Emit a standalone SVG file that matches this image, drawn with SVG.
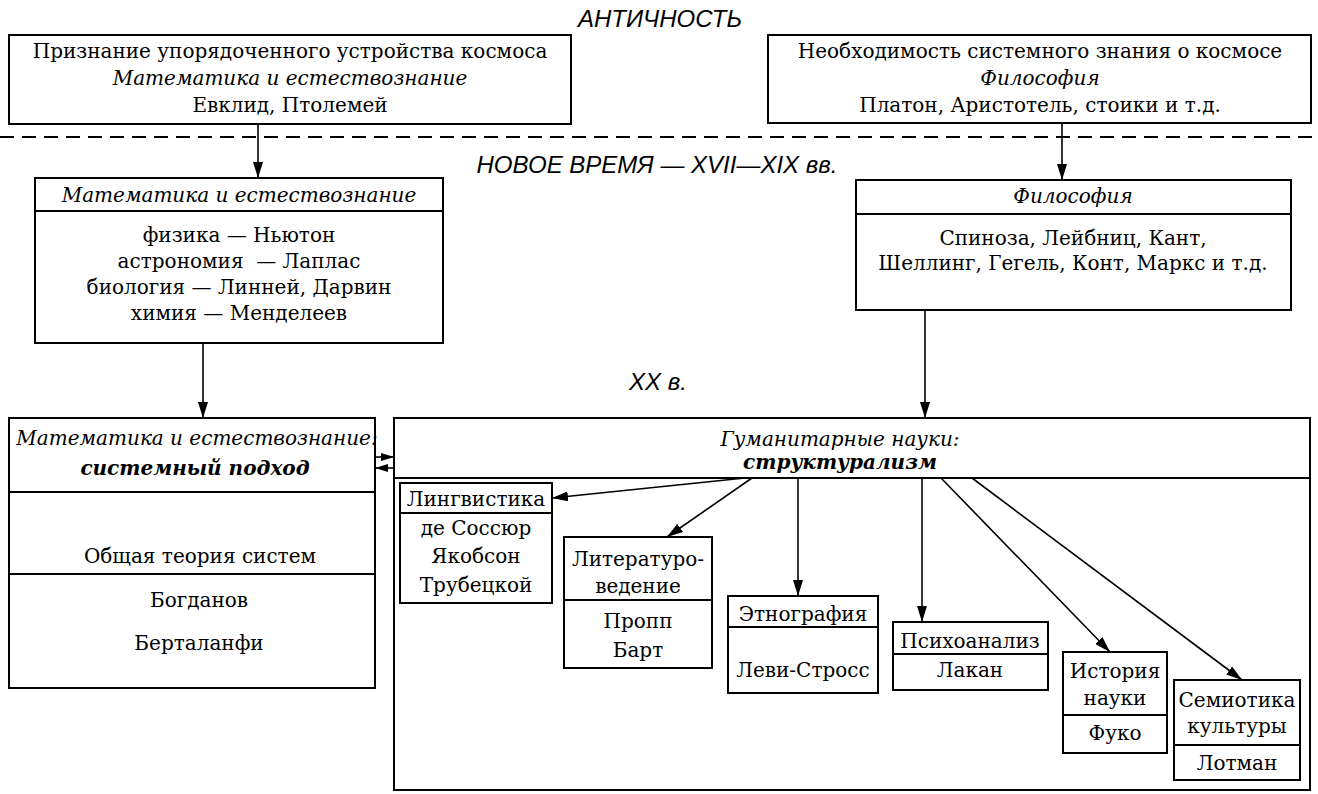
<svg xmlns="http://www.w3.org/2000/svg" width="1318" height="794" viewBox="0 0 1318 794">
<defs>
<marker id="ah" viewBox="0 0 16 10" refX="16" refY="5" markerWidth="16" markerHeight="10" markerUnits="userSpaceOnUse" orient="auto"><path d="M0,0 L16,5 L0,10 Z" fill="#000"/></marker>
<marker id="ahs" viewBox="0 0 13 8" refX="13" refY="4" markerWidth="13" markerHeight="8" markerUnits="userSpaceOnUse" orient="auto"><path d="M0,0 L13,4 L0,8 Z" fill="#000"/></marker>
</defs>
<style>
.box{fill:none;stroke:#000;stroke-width:2}
.dv{stroke:#000;stroke-width:2}
.t{font-family:"DejaVu Serif",serif;font-size:20px;fill:#000;text-anchor:middle}
.i{font-style:italic}
.bi{font-style:italic;font-weight:bold}
.h{font-family:"Liberation Sans",Arial,sans-serif;font-style:italic;font-size:24px;fill:#000;text-anchor:middle}
.c{fill:none;stroke:#000;stroke-width:1.6}
.dash{stroke:#000;stroke-width:2;stroke-dasharray:14 8}
</style>
<rect width="1318" height="794" fill="#fff"/>

<g id="periods">
<text class="h" x="660" y="27">АНТИЧНОСТЬ</text>
<line class="dash" x1="0" y1="137" x2="1318" y2="137"/>
<text class="h" x="657" y="173">НОВОЕ ВРЕМЯ — XVII—XIX вв.</text>
<text class="h" x="658" y="390">XX в.</text>
</g>

<g id="antiquity-math">
<rect class="box" x="9" y="35" width="562" height="89"/>
<text class="t" x="290" y="58">Признание упорядоченного устройства космоса</text>
<text class="t i" x="290" y="85">Математика и естествознание</text>
<text class="t" x="290" y="112">Евклид, Птолемей</text>
</g>

<g id="antiquity-philosophy">
<rect class="box" x="768" y="35" width="543" height="88"/>
<text class="t" x="1040" y="58">Необходимость системного знания о космосе</text>
<text class="t i" x="1040" y="85">Философия</text>
<text class="t" x="1040" y="112">Платон, Аристотель, стоики и т.д.</text>
</g>

<g id="modern-math">
<rect class="box" x="35" y="178" width="408" height="165"/>
<line class="dv" x1="35" y1="211" x2="443" y2="211"/>
<text class="t i" x="239" y="202">Математика и естествознание</text>
<text class="t" x="239" y="242">физика — Ньютон</text>
<text class="t" x="239" y="268" xml:space="preserve">астрономия  — Лаплас</text>
<text class="t" x="239" y="294">биология — Линней, Дарвин</text>
<text class="t" x="239" y="320">химия — Менделеев</text>
</g>

<g id="modern-philosophy">
<rect class="box" x="856" y="180" width="435" height="130"/>
<line class="dv" x1="856" y1="214" x2="1291" y2="214"/>
<text class="t i" x="1073" y="203">Философия</text>
<text class="t" x="1073" y="245">Спиноза, Лейбниц, Кант,</text>
<text class="t" x="1073" y="270">Шеллинг, Гегель, Конт, Маркс и т.д.</text>
</g>

<g id="systems">
<rect class="box" x="9" y="418" width="366" height="270"/>
<line class="dv" x1="9" y1="492" x2="375" y2="492"/>
<line class="dv" x1="9" y1="574" x2="375" y2="574"/>
<text class="t i" x="197" y="445">Математика и естествознание:</text>
<text class="t bi" x="195" y="475">системный подход</text>
<text class="t" x="200" y="563">Общая теория систем</text>
<text class="t" x="199" y="607">Богданов</text>
<text class="t" x="199" y="650">Берталанфи</text>
</g>

<g id="humanities">
<rect class="box" x="394" y="418" width="916" height="372"/>
<line class="dv" x1="394" y1="478" x2="1310" y2="478"/>
<text class="t i" x="840" y="446">Гуманитарные науки:</text>
<text class="t bi" x="840" y="469">структурализм</text>
</g>

<g id="linguistics">
<rect class="box" x="400" y="483" width="152" height="120"/>
<line class="dv" x1="400" y1="513" x2="552" y2="513"/>
<text class="t" x="476" y="506">Лингвистика</text>
<text class="t" x="476" y="535">де Соссюр</text>
<text class="t" x="476" y="563">Якобсон</text>
<text class="t" x="476" y="592">Трубецкой</text>
</g>

<g id="literature">
<rect class="box" x="564" y="537" width="148" height="131"/>
<line class="dv" x1="564" y1="600" x2="712" y2="600"/>
<text class="t" x="638" y="566">Литературо-</text>
<text class="t" x="638" y="593">ведение</text>
<text class="t" x="638" y="628">Пропп</text>
<text class="t" x="638" y="657">Барт</text>
</g>

<g id="ethnography">
<rect class="box" x="728" y="596" width="150" height="97"/>
<line class="dv" x1="728" y1="627" x2="878" y2="627"/>
<text class="t" x="803" y="621">Этнография</text>
<text class="t" x="803" y="677">Леви-Стросс</text>
</g>

<g id="psychoanalysis">
<rect class="box" x="893" y="622" width="155" height="68"/>
<line class="dv" x1="893" y1="654" x2="1048" y2="654"/>
<text class="t" x="970" y="648">Психоанализ</text>
<text class="t" x="970" y="677">Лакан</text>
</g>

<g id="history">
<rect class="box" x="1063" y="652" width="104" height="101"/>
<line class="dv" x1="1063" y1="715" x2="1167" y2="715"/>
<text class="t" x="1115" y="678">История</text>
<text class="t" x="1115" y="705">науки</text>
<text class="t" x="1115" y="740">Фуко</text>
</g>

<g id="semiotics">
<rect class="box" x="1174" y="680" width="126" height="100"/>
<line class="dv" x1="1174" y1="745" x2="1300" y2="745"/>
<text class="t" x="1237" y="707">Семиотика</text>
<text class="t" x="1237" y="733">культуры</text>
<text class="t" x="1237" y="770">Лотман</text>
</g>

<g id="connectors">
<line class="c" x1="258" y1="124" x2="258" y2="178" marker-end="url(#ah)"/>
<line class="c" x1="1062" y1="123" x2="1062" y2="180" marker-end="url(#ah)"/>
<line class="c" x1="203" y1="343" x2="203" y2="418" marker-end="url(#ah)"/>
<line class="c" x1="925" y1="310" x2="925" y2="418" marker-end="url(#ah)"/>
<line class="c" x1="375" y1="457" x2="394" y2="457" marker-end="url(#ahs)"/>
<line class="c" x1="394" y1="468" x2="375" y2="468" marker-end="url(#ahs)"/>
<line class="c" x1="745" y1="478" x2="552" y2="498" marker-end="url(#ah)"/>
<line class="c" x1="752" y1="478" x2="667" y2="537" marker-end="url(#ah)"/>
<line class="c" x1="798" y1="478" x2="798" y2="596" marker-end="url(#ah)"/>
<line class="c" x1="922" y1="478" x2="922" y2="622" marker-end="url(#ah)"/>
<line class="c" x1="941" y1="478" x2="1110" y2="652" marker-end="url(#ah)"/>
<line class="c" x1="972" y1="478" x2="1242" y2="680" marker-end="url(#ah)"/>
</g>
</svg>
